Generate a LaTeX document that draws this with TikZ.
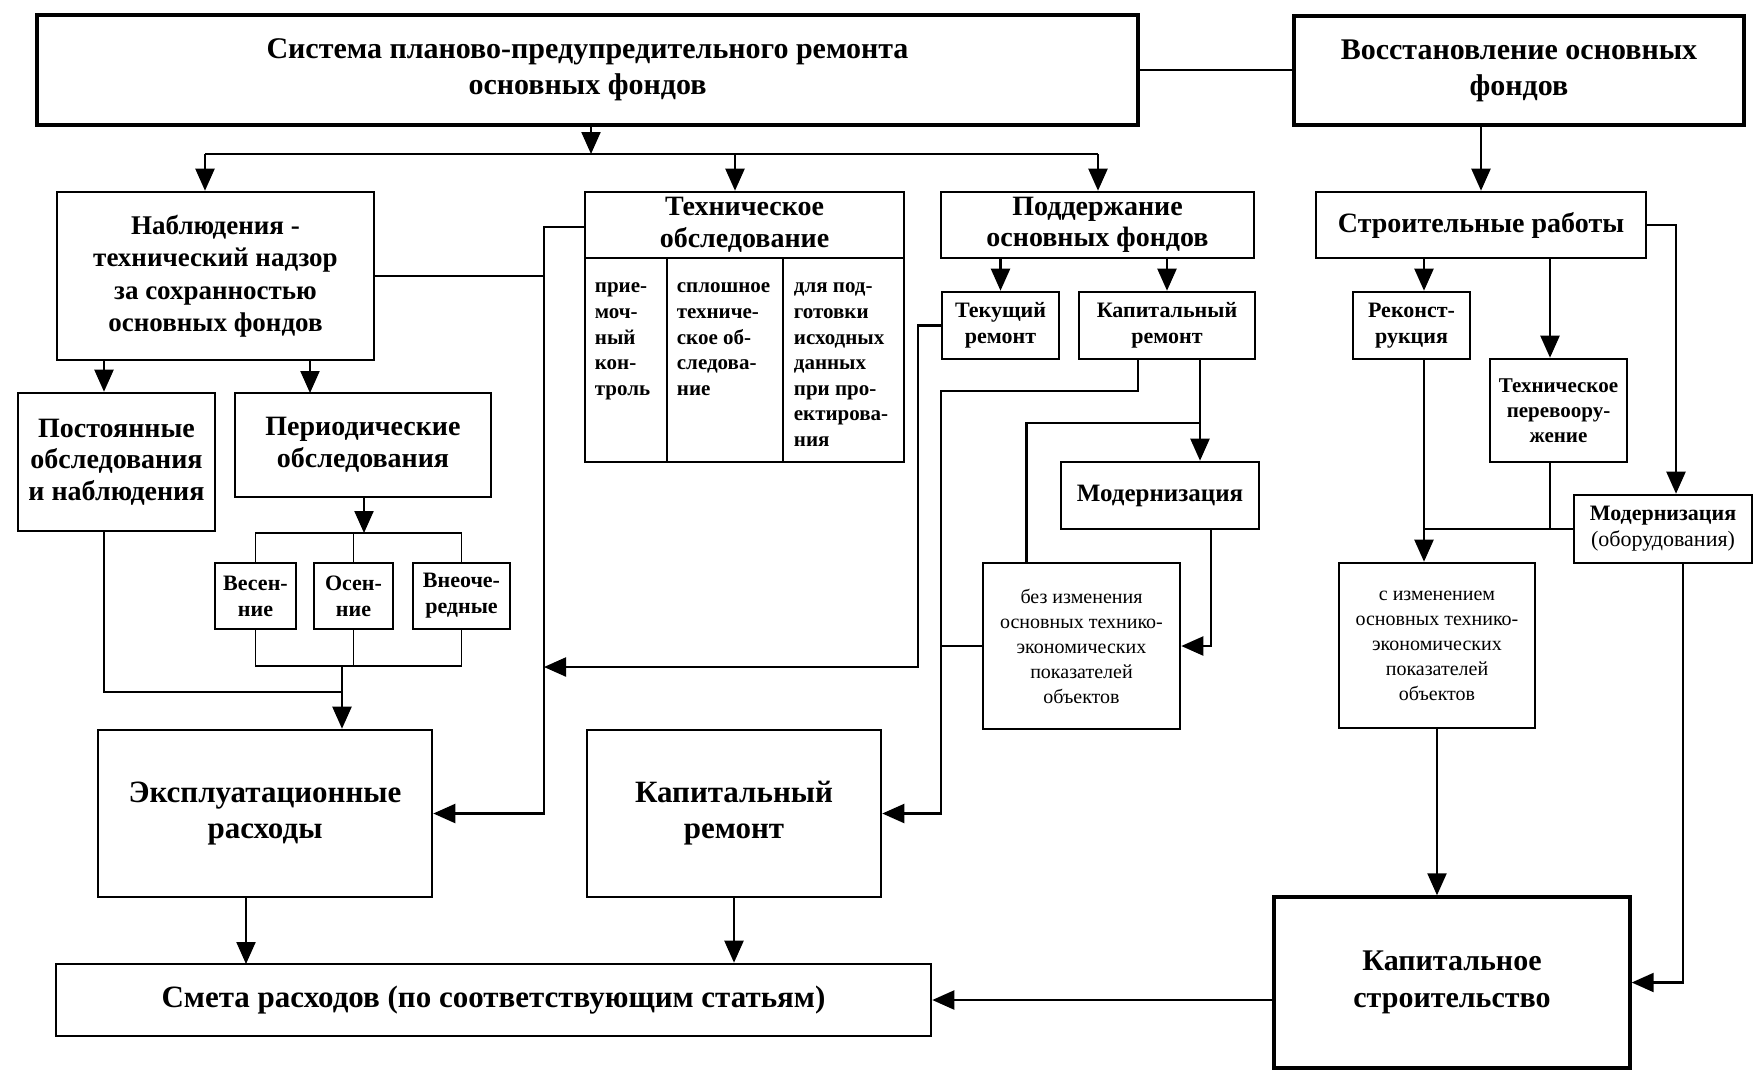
\documentclass[tikz,border=0pt]{standalone}
\usepackage{fontspec}
\setmainfont{Liberation Serif}
\usetikzlibrary{arrows.meta}

\begin{document}
\begin{tikzpicture}[x=1pt, y=-1pt,
    box/.style={draw, line width=2.6pt, inner sep=1pt, align=center},
    title/.style={box, line width=4.5pt, font=\bfseries\fontsize{30}{36}\selectfont},
    head/.style={box, font=\bfseries\fontsize{28}{31.5}\selectfont},
    big/.style={box, font=\bfseries\fontsize{31}{36}\selectfont},
    small/.style={box, font=\bfseries\fontsize{22}{26}\selectfont},
    plain/.style={box, font=\fontsize{20}{25}\selectfont},
    coltext/.style={align=left, inner sep=0pt, anchor=north west, font=\bfseries\fontsize{21}{25.6}\selectfont},
    conn/.style={line width=2.2pt},
    arr/.style={conn, -{Triangle[length=22pt, width=19pt]}},
    brk/.style={line width=1.4pt}]

        \fill[white] (0,0) rectangle (1753,1080);
        \useasboundingbox (0,0) rectangle (1753,1080);

        % Nodes
        \node[title, minimum width=1101pt, minimum height=110pt] (sys) at (587.5,70) {Система планово-предупредительного ремонта\\основных фондов};
        \node[title, minimum width=450pt, minimum height=109pt] (vos) at (1519,70.5) {Восстановление основных\\фондов};

        \node[head, minimum width=317pt, minimum height=168pt, font=\bfseries\fontsize{27}{32.5}\selectfont] (nabl) at (215.5,276) {Наблюдения -\\технический надзор\\за сохранностью\\основных фондов};
        \node[head, minimum width=319pt, minimum height=66pt] (tech) at (744.5,225) {Техническое\\обследование};
        \node[box, minimum width=82pt, minimum height=204pt] (c1) at (626,360) {};
        \node[box, minimum width=116pt, minimum height=204pt] (c2) at (725,360) {};
        \node[box, minimum width=121pt, minimum height=204pt] (c3) at (843.5,360) {};
        \node[coltext] (c1t) at ([xshift=11pt, yshift=-26pt]c1.north west) {прие-\\моч-\\ный\\кон-\\троль};
        \node[coltext] (c2t) at ([xshift=11pt, yshift=-26pt]c2.north west) {сплошное\\техниче-\\ское об-\\следова-\\ние};
        \node[coltext] (c3t) at ([xshift=12pt, yshift=-26pt]c3.north west) {для под-\\готовки\\исходных\\данных\\при про-\\ектирова-\\ния};
        \node[head, minimum width=313pt, minimum height=66pt] (podd) at (1097.5,225) {Поддержание\\основных фондов};

        \node[small, minimum width=117pt, minimum height=67pt] (tek) at (1000.5,325.5) {Текущий\\ремонт};
        \node[small, minimum width=176pt, minimum height=67pt] (kaps) at (1167,325.5) {Капитальный\\ремонт};
        \node[small, minimum width=198pt, minimum height=67pt, font=\bfseries\fontsize{25}{30}\selectfont] (mod) at (1160,495.5) {Модернизация};
        \node[plain, minimum width=197pt, minimum height=166pt] (bez) at (1081.5,646) {без изменения\\основных технико-\\экономических\\показателей\\объектов};

        \node[head, minimum width=330pt, minimum height=66pt] (str) at (1481,225) {Строительные работы};
        \node[small, minimum width=117pt, minimum height=67pt] (recon) at (1411.5,325.5) {Реконст-\\рукция};
        \node[small, minimum width=137pt, minimum height=103pt, font=\bfseries\fontsize{21}{25}\selectfont] (pere) at (1558.5,410.5) {Техническое\\перевоору-\\жение};
        \node[small, minimum width=178pt, minimum height=68pt] (modob) at (1663,529) {Модернизация\\{\mdseries(оборудования)}};
        \node[plain, minimum width=196pt, minimum height=165pt] (sizm) at (1437,645.5) {с изменением\\основных технико-\\экономических\\показателей\\объектов};

        \node[head, minimum width=197pt, minimum height=138pt] (post) at (116.5,462) {Постоянные\\обследования\\и наблюдения};
        \node[head, minimum width=256pt, minimum height=104pt] (period) at (363,445) {Периодические\\обследования};
        \node[small, minimum width=81pt, minimum height=66pt] (ves) at (255.5,596) {Весен-\\ние};
        \node[small, minimum width=79pt, minimum height=66pt] (osen) at (353.5,596) {Осен-\\ние};
        \node[small, minimum width=97pt, minimum height=66pt] (vneo) at (461.5,596) {Внеоче-\\редные};

        \node[big, minimum width=334pt, minimum height=167pt] (expl) at (265,813.5) {Эксплуатационные\\расходы};
        \node[big, minimum width=294pt, minimum height=167pt] (kapb) at (734,813.5) {Капитальный\\ремонт};
        \node[big, minimum width=356pt, minimum height=171pt, line width=3.4pt, font=\bfseries\fontsize{30}{37}\selectfont] (kstr) at (1452,982.5) {Капитальное\\строительство};
        \node[big, minimum width=875pt, minimum height=72pt] (smeta) at (493.5,1000) {Смета расходов (по соответствующим статьям)};

        % Junctions
        \coordinate (bus) at (591,154);
        \coordinate (d1) at (205,154);
        \coordinate (d2) at (735,154);
        \coordinate (d3) at (1098,154);
        \coordinate (pl) at (104,692);
        \coordinate (pr) at (310,393);
        \coordinate (pj) at (364,533);
        \coordinate (lj) at (342,666);
        \coordinate (ex) at (246,964);
        \coordinate (vb) at (544,227);
        \coordinate (tb) at (918,667);
        \coordinate (kb) at (941,391);
        \coordinate (mj) at (1200,423);
        \coordinate (rx) at (1424,529);
        \coordinate (px) at (1550,529);

        % Edges
        \draw[conn] (sys.east) -- (sys.east -| vos.west);
        \draw[arr] (bus |- sys.south) -- (bus);
        \draw[conn] (d1) -- (d3);
        \draw[arr] (d1) -- (d1 |- nabl.north);
        \draw[arr] (d2) -- (d2 |- tech.north);
        \draw[arr] (d3) -- (d3 |- podd.north);

        \draw[arr] (pl |- nabl.south) -- (pl |- post.north);
        \draw[arr] (pr |- nabl.south) -- (pr);
        \draw[arr] (pj |- period.south) -- (pj);
        \draw[brk] (ves.north) |- (pj) -| (vneo.north);
        \draw[brk] (osen.north) -- (osen.north |- pj);
        \draw[brk] (ves.south) |- (lj) -| (vneo.south);
        \draw[brk] (osen.south) -- (osen.south |- lj);
        \draw[arr] (lj) -- (lj |- expl.north);
        \draw[conn] (pl |- post.south) -- (pl) -- (lj |- pl);

        \draw[arr] (vb -| tech.west) -- (vb) |- (expl.east);
        \draw[conn] (nabl.east) -- (nabl.east -| vb);
        \draw[arr] (tek.west) -| (tb) -- (tb -| vb);

        \draw[arr] (tek.north |- podd.south) -- (tek.north);
        \draw[arr] (kaps.north |- podd.south) -- (kaps.north);
        \draw[arr] ([xshift=-29pt]kaps.south) |- (kb) |- (kapb.east);
        \draw[arr] (mj |- kaps.south) -- (mj |- mod.north);
        \draw[conn] (mj) -| ([xshift=-55pt]bez.north);
        \draw[arr] ([xshift=51pt]mod.south) |- (bez.east);
        \draw[conn] (bez.west) -- (bez.west -| kb);

        \draw[arr] (str.north |- vos.south) -- (str.north);
        \draw[arr] (rx |- str.south) -- (rx |- recon.north);
        \draw[arr] (px |- str.south) -- (px |- pere.north);
        \draw[arr] (str.east) -| ([xshift=13pt]modob.north);
        \draw[arr] (rx |- recon.south) -- (rx |- sizm.north);
        \draw[conn] (modob.west) -- (rx);
        \draw[conn] (px |- pere.south) -- (px);
        \draw[arr] (sizm.south) -- (sizm.south |- kstr.north);
        \draw[arr] ([xshift=20pt]modob.south) |- (kstr.east);

        \draw[arr] (ex |- expl.south) -- (ex);
        \draw[arr] (kapb.south) -- (kapb.south |- smeta.north);
        \draw[arr] (kstr.west |- smeta.east) -- (smeta.east);

    \end{tikzpicture}
\end{document}
